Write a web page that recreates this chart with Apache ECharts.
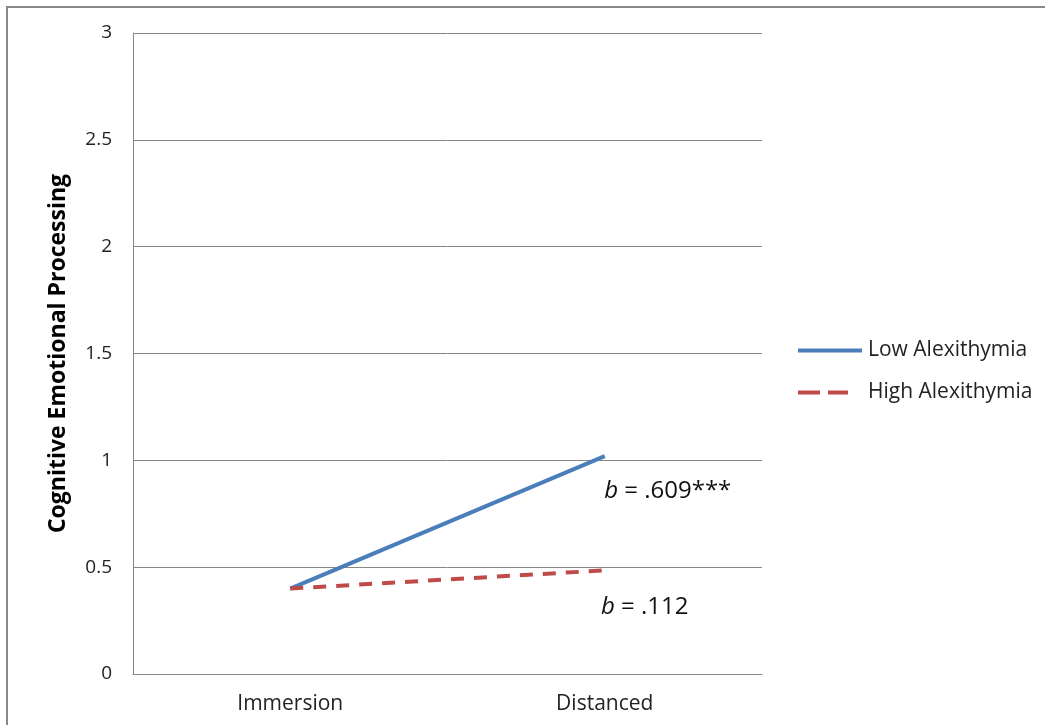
<!DOCTYPE html>
<html><head><meta charset="utf-8">
<script src="https://cdn.jsdelivr.net/npm/echarts@6/dist/echarts.min.js"></script>
<style>html,body{margin:0;padding:0;background:#fff}#c{width:1045px;height:725px}</style>
</head><body><div id="c"></div>
<script>
const categories = ['Immersion', 'Distanced'];
const lowAlex = [0.40, 1.02];
const highAlex = [0.40, 0.485];
const yTicks = [0, 0.5, 1, 1.5, 2, 2.5, 3];
const annotLow = 'b = .609***';
const annotHigh = 'b = .112';
const FONT = '"Open Sans", sans-serif';

const chart = echarts.init(document.getElementById('c'));
function annot(text, value, offset) {
  const parts = text.split(' ');
  return {
    symbol: 'circle', symbolSize: 0,
    coord: [categories[1], value],
    label: {
      show: true, position: 'inside', offset: offset,
      formatter: '{i|' + parts[0] + '}{n| ' + parts.slice(1).join(' ') + '}',
      rich: {
        i: {fontStyle: 'italic', fontSize: 24, fontFamily: FONT, color: '#111'},
        n: {fontSize: 24, fontFamily: FONT, color: '#111'}
      }
    }
  };
}
chart.setOption({
  animation: false,
  graphic: [{type: 'rect', shape: {x: 7, y: 7, width: 1100, height: 800},
    style: {fill: null, stroke: '#888', lineWidth: 2}, silent: true}],
  grid: {left: 133, top: 33, right: 283, bottom: 51},
  legend: {
    orient: 'vertical', left: 793, top: 335, itemWidth: 64, itemHeight: 4, itemGap: 21,
    textStyle: {fontFamily: FONT, fontSize: 21, color: '#222', padding: [0, 0, 0, 1]},
    data: [
      {name: 'Low Alexithymia', icon: 'path://M0,0H64V4H0Z', itemStyle: {color: '#4A7EBB'}},
      {name: 'High Alexithymia', icon: 'path://M0,0H22V4H0Z M30,0H50V4H30Z M63.9,0H64V0.01H63.9Z', itemStyle: {color: '#BE4B48'}}
    ]
  },
  xAxis: {
    type: 'category', data: categories, boundaryGap: true,
    axisLine: {lineStyle: {color: '#888', width: 1}},
    axisTick: {show: false},
    axisLabel: {fontFamily: FONT, fontSize: 21, color: '#222', margin: 20}
  },
  yAxis: {
    type: 'value', min: 0, max: 3, interval: 0.5,
    name: 'Cognitive Emotional Processing', nameLocation: 'middle', nameGap: 63,
    nameTextStyle: {fontFamily: FONT, fontSize: 23, fontWeight: 'bold', color: '#000'},
    axisLine: {show: true, lineStyle: {color: '#888', width: 1}},
    axisTick: {show: false},
    splitLine: {lineStyle: {color: '#888', width: 1}},
    axisLabel: {fontFamily: FONT, fontSize: 19, color: '#222', margin: 21,
      formatter: v => yTicks.includes(v) ? String(v) : ''}
  },
  series: [
    {name: 'Low Alexithymia', type: 'line', data: lowAlex, showSymbol: false, symbol: 'none',
      lineStyle: {color: '#4A7EBB', width: 4}, itemStyle: {color: '#4A7EBB'},
      markPoint: {silent: true, data: [annot(annotLow, lowAlex[1], [63, 35])]}},
    {name: 'High Alexithymia', type: 'line', data: highAlex, showSymbol: false, symbol: 'none',
      lineStyle: {color: '#BE4B48', width: 4, type: [13, 10]}, itemStyle: {color: '#BE4B48'},
      markPoint: {silent: true, data: [annot(annotHigh, highAlex[1], [40, 37])]}}
  ]
});
</script></body></html>
